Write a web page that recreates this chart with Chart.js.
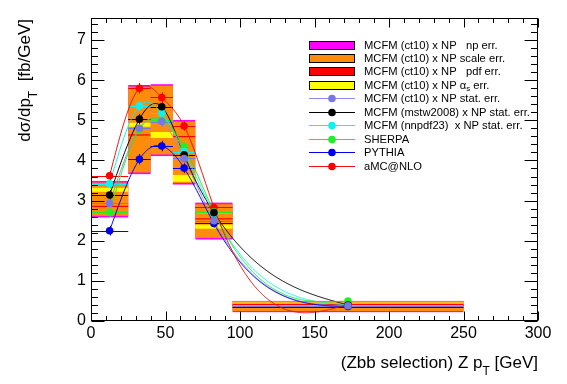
<!DOCTYPE html>
<html><head><meta charset="utf-8">
<script src="https://cdn.jsdelivr.net/npm/chart.js@4"></script>
<style>html,body{margin:0;padding:0;background:#fff;}#wrap{width:567px;height:384px;}</style>
</head><body><div id="wrap"><canvas id="c" width="567" height="384"></canvas></div>
<script>
// ---- data ----
const binLow = [0, 25, 40, 55, 70, 95];
const binHigh = [25, 40, 55, 70, 95, 250];
const binCenters = [12.5, 32.5, 47.5, 62.5, 82.5, 172.5];
const mcfmCt10 = [2.93, 4.80, 4.97, 4.05, 2.50, 0.38];
const mcfmMstw = [3.14, 5.03, 5.34, 4.14, 2.70, 0.40];
const mcfmNnpdf = [3.42, 5.36, 5.18, 4.22, 2.68, 0.40];
const sherpa = [2.71, 4.78, 5.01, 4.34, 2.72, 0.50];
const pythia = [2.25, 4.03, 4.36, 3.81, 2.43, 0.36];
const amcnlo = [3.62, 5.80, 5.57, 4.86, 2.83, 0.42];
const statErr = [0.12, 0.13, 0.13, 0.12, 0.10, 0.03];
const npLow = [2.58, 3.66, 4.11, 3.40, 2.03, 0.22];
const npHigh = [3.49, 5.88, 5.90, 5.01, 2.95, 0.50];
const scaleLow = [2.62, 3.70, 4.15, 3.44, 2.07, 0.25];
const scaleHigh = [3.45, 5.84, 5.86, 4.97, 2.91, 0.47];
const pdfLow = [2.84, 4.62, 4.60, 4.58, 2.53, 0.33];
const pdfHigh = [2.87, 4.65, 4.63, 4.61, 2.56, 0.35];
const asLow = [3.22, 4.84, 4.56, 3.47, 2.30, 0.44];
const asHigh = [3.32, 4.94, 4.71, 3.64, 2.40, 0.46];
const xTickValues = [0, 50, 100, 150, 200, 250, 300];
const yTickValues = [0, 1, 2, 3, 4, 5, 6, 7];

const FONT = "'Liberation Sans', Arial, Helvetica, sans-serif";

const bands = [
  {label: [["MCFM (ct10) x NP   np err.", 0]], color: '#ff00ff', lo: npLow, hi: npHigh},
  {label: [["MCFM (ct10) x NP scale err.", 0]], color: '#ff8c0a', lo: scaleLow, hi: scaleHigh},
  {label: [["MCFM (ct10) x NP   pdf err.", 0]], color: '#ff0000', lo: pdfLow, hi: pdfHigh},
  {label: [["MCFM (ct10) x NP ", 0], ["\u03b1", 0], ["s", 1], [" err.", 0]], color: '#ffff00', lo: asLow, hi: asHigh}
];
const series = [
  {label: "MCFM (ct10) x NP stat. err.", values: mcfmCt10, color: '#7878e0', line: '#8c8cf0'},
  {label: "MCFM (mstw2008) x NP stat. err.", values: mcfmMstw, color: '#000000', line: '#000000'},
  {label: "MCFM (nnpdf23)  x NP stat. err.", values: mcfmNnpdf, color: '#10f0f0', line: '#10f0f0'},
  {label: "SHERPA", values: sherpa, color: '#22ee22', line: '#22ee22'},
  {label: "PYTHIA", values: pythia, color: '#0000ee', line: '#0000ee'},
  {label: "aMC@NLO", values: amcnlo, color: '#ff0000', line: '#ee1111'}
];

function naturalSpline(xs, ys) {
  const n = xs.length, h = [], alpha = [];
  for (let i = 0; i < n - 1; i++) h[i] = xs[i + 1] - xs[i];
  const l = new Array(n).fill(0), mu = new Array(n).fill(0), z = new Array(n).fill(0);
  l[0] = 1;
  for (let i = 1; i < n - 1; i++) {
    alpha[i] = 3 / h[i] * (ys[i + 1] - ys[i]) - 3 / h[i - 1] * (ys[i] - ys[i - 1]);
    l[i] = 2 * (xs[i + 1] - xs[i - 1]) - h[i - 1] * mu[i - 1];
    mu[i] = h[i] / l[i];
    z[i] = (alpha[i] - h[i - 1] * z[i - 1]) / l[i];
  }
  const c = new Array(n).fill(0), b = [], d = [];
  for (let j = n - 2; j >= 0; j--) {
    c[j] = z[j] - mu[j] * c[j + 1];
    b[j] = (ys[j + 1] - ys[j]) / h[j] - h[j] * (c[j + 1] + 2 * c[j]) / 3;
    d[j] = (c[j + 1] - c[j]) / (3 * h[j]);
  }
  return x => {
    let j = 0;
    while (j < n - 2 && x > xs[j + 1]) j++;
    const t = x - xs[j];
    return ys[j] + b[j] * t + c[j] * t * t + d[j] * t * t * t;
  };
}

function richWidth(ctx, parts, size, subSize) {
  let w = 0;
  for (const [t, sub] of parts) { ctx.font = (sub ? subSize : size) + 'px ' + FONT; w += ctx.measureText(t).width; }
  return w;
}
function drawRich(ctx, parts, x, y, size, subSize, subDy) {
  ctx.textAlign = 'left'; ctx.textBaseline = 'alphabetic';
  for (const [t, sub] of parts) {
    ctx.font = (sub ? subSize : size) + 'px ' + FONT;
    ctx.fillText(t, x, y + (sub ? subDy : 0));
    x += ctx.measureText(t).width;
  }
}

const rootPlugin = {
  id: 'rootStyle',
  beforeDatasetsDraw(chart) {
    const ctx = chart.ctx, xs = chart.scales.x, ys = chart.scales.y, a = chart.chartArea;
    ctx.save();
    ctx.beginPath(); ctx.rect(a.left, a.top, a.right - a.left, a.bottom - a.top); ctx.clip();
    for (const b of bands) {
      ctx.fillStyle = b.color;
      for (let i = 0; i < binLow.length; i++) {
        const x0 = xs.getPixelForValue(binLow[i]), x1 = xs.getPixelForValue(binHigh[i]);
        const y0 = ys.getPixelForValue(b.hi[i]), y1 = ys.getPixelForValue(b.lo[i]);
        ctx.fillRect(x0, y0, x1 - x0, y1 - y0);
      }
    }
    ctx.lineWidth = 1;
    for (const s of series) {
      ctx.strokeStyle = s.color;
      for (let i = 0; i < binLow.length; i++) {
        const x0 = xs.getPixelForValue(binLow[i]), x1 = xs.getPixelForValue(binHigh[i]);
        const xc = xs.getPixelForValue(binCenters[i]);
        const yc = Math.round(ys.getPixelForValue(s.values[i])) + 0.5;
        ctx.beginPath(); ctx.moveTo(x0, yc); ctx.lineTo(x1, yc); ctx.stroke();
        const ya = ys.getPixelForValue(s.values[i] + statErr[i]), yb = ys.getPixelForValue(s.values[i] - statErr[i]);
        ctx.beginPath(); ctx.moveTo(Math.round(xc) + 0.5, ya); ctx.lineTo(Math.round(xc) + 0.5, yb); ctx.stroke();
      }
    }
    for (const s of series) {
      const f = naturalSpline(binCenters, s.values);
      ctx.strokeStyle = s.line; ctx.lineWidth = 1;
      ctx.beginPath();
      const xStart = binCenters[0], xEnd = binCenters[binCenters.length - 1];
      for (let x = xStart; x <= xEnd + 1e-6; x += 0.5) {
        const px = xs.getPixelForValue(x), py = ys.getPixelForValue(f(x));
        if (x === xStart) ctx.moveTo(px, py); else ctx.lineTo(px, py);
      }
      ctx.stroke();
    }
    ctx.restore();
  },
  afterDraw(chart) {
    const ctx = chart.ctx, xs = chart.scales.x, ys = chart.scales.y, a = chart.chartArea;
    ctx.save();
    ctx.strokeStyle = '#000'; ctx.lineWidth = 1;
    const L = Math.round(a.left) + 0.5, R = Math.round(a.right) - 0.5, T = Math.round(a.top) + 0.5, B = Math.round(a.bottom) - 0.5;
    ctx.strokeRect(L, T, R - L, B - T);
    ctx.beginPath();
    for (let v = 0; v <= 300 + 1e-6; v += 10) {
      const major = Math.abs(v % 50) < 1e-6;
      const len = major ? 9 : 4.5;
      const px = Math.round(xs.getPixelForValue(v)) + 0.5;
      ctx.moveTo(px, B); ctx.lineTo(px, B - len);
      ctx.moveTo(px, T); ctx.lineTo(px, T + len);
    }
    for (let k = 0; k <= 37; k++) {
      const v = k * 0.2;
      const major = k % 5 === 0;
      const len = major ? 13 : 6.5;
      const py = Math.round(ys.getPixelForValue(v)) + 0.5;
      ctx.moveTo(L, py); ctx.lineTo(L + len, py);
      ctx.moveTo(R, py); ctx.lineTo(R - len, py);
    }
    ctx.stroke();
    ctx.fillStyle = '#000';
    const xt = [["(Zbb selection) Z p", 0], ["T", 1], [" [GeV]", 0]];
    const wx = richWidth(ctx, xt, 17, 12);
    drawRich(ctx, xt, a.right - wx, 368, 17, 12, 7);
    const yt = [["d\u03c3/dp", 0], ["T", 1], ["  [fb/GeV]", 0]];
    const wy = richWidth(ctx, yt, 17, 12);
    ctx.translate(30, a.top + 1);
    ctx.rotate(-Math.PI / 2);
    drawRich(ctx, yt, -wy, 0, 17, 12, 7);
    ctx.restore();
    ctx.save();
    const lx0 = 309, lx1 = 355, tx = 364, y0 = 44.5, dy = 13.45;
    let row = 0;
    for (const b of bands) {
      const yc = y0 + row * dy;
      ctx.fillStyle = b.color;
      ctx.fillRect(lx0, Math.round(yc - 4), lx1 - lx0, 9);
      ctx.strokeStyle = '#000'; ctx.lineWidth = 1;
      ctx.strokeRect(lx0 + 0.5, Math.round(yc - 4) + 0.5, lx1 - lx0 - 1, 8);
      ctx.fillStyle = '#000';
      drawRich(ctx, b.label, tx, yc + 4, 11.2, 8, 2.5);
      row++;
    }
    for (const s of series) {
      const yc = y0 + row * dy;
      ctx.strokeStyle = s.line; ctx.lineWidth = 1;
      ctx.beginPath(); ctx.moveTo(lx0, Math.round(yc) + 0.5); ctx.lineTo(lx1, Math.round(yc) + 0.5); ctx.stroke();
      ctx.fillStyle = s.color;
      ctx.beginPath(); ctx.arc((lx0 + lx1) / 2, Math.round(yc) + 0.5, 3.8, 0, Math.PI * 2); ctx.fill();
      ctx.fillStyle = '#000';
      drawRich(ctx, [[s.label, 0]], tx, yc + 4, 11.2, 8, 2.5);
      row++;
    }
    ctx.restore();
  }
};

const ctx = document.getElementById('c').getContext('2d');
new Chart(ctx, {
  type: 'scatter',
  data: {
    datasets: series.map(s => ({
      label: s.label,
      data: binCenters.map((x, i) => ({x: x, y: s.values[i]})),
      backgroundColor: s.color, borderColor: s.color,
      pointRadius: 3.8, pointBorderWidth: 0, pointHoverRadius: 3.8, showLine: false
    }))
  },
  options: {
    responsive: false, animation: false, devicePixelRatio: 1,
    layout: {padding: {top: 18, right: 29, left: 0, bottom: 0}},
    plugins: {legend: {display: false}, tooltip: {enabled: false}},
    scales: {
      x: {
        type: 'linear', min: 0, max: 300,
        afterBuildTicks(s) { s.ticks = xTickValues.map(v => ({value: v})); },
        ticks: {font: {family: FONT, size: 16}, color: '#000', maxRotation: 0, autoSkip: false, padding: 3},
        grid: {display: false, drawTicks: false}, border: {display: false},
        afterFit(s) { s.height = 63; }
      },
      y: {
        type: 'linear', min: 0, max: 7.55,
        afterBuildTicks(s) { s.ticks = yTickValues.map(v => ({value: v})); },
        ticks: {font: {family: FONT, size: 16}, color: '#000', padding: 5, autoSkip: false},
        grid: {display: false, drawTicks: false}, border: {display: false},
        afterFit(s) { s.width = 91; }
      }
    }
  },
  plugins: [rootPlugin]
});
</script>
</body></html>
